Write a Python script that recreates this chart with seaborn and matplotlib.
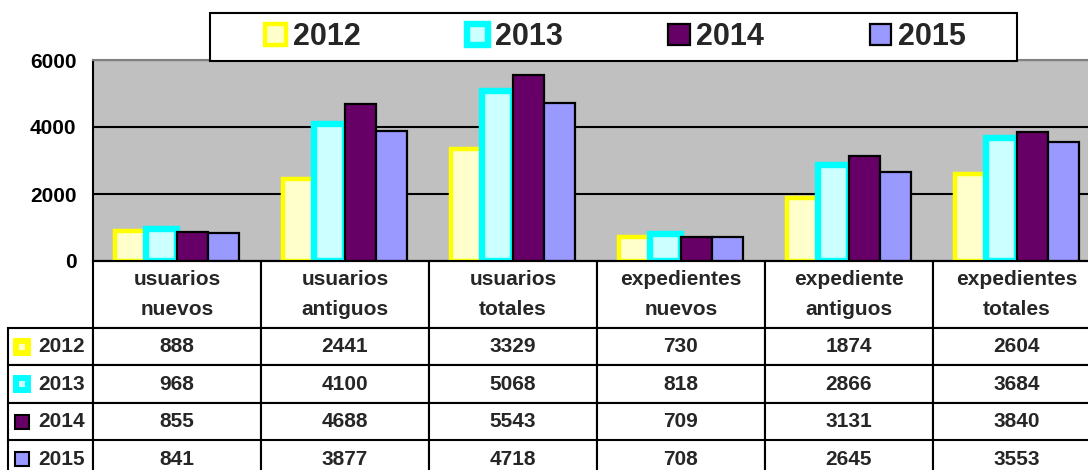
import numpy as np
import pandas as pd
import matplotlib
matplotlib.use("Agg")
import matplotlib.pyplot as plt
import seaborn as sns
from matplotlib.patches import Rectangle
from matplotlib.table import Table

# ==========================================
# DATA
# ==========================================

categorias = ["usuarios\nnuevos", "usuarios\nantiguos", "usuarios\ntotales",
              "expedientes\nnuevos", "expediente\nantiguos", "expedientes\ntotales"]
anios = ["2012", "2013", "2014", "2015"]

v2012 = [888, 2441, 3329, 730, 1874, 2604]
v2013 = [968, 4100, 5068, 818, 2866, 3684]
v2014 = [855, 4688, 5543, 709, 3131, 3840]
v2015 = [841, 3877, 4718, 708, 2645, 3553]

y_ticks = [0, 2000, 4000, 6000]

# colours (excel style)
relleno = ["#FFFFCC", "#CCFFFF", "#660066", "#9999FF"]
borde = ["#FFFF00", "#00FFFF", "#000000", "#000000"]
borde_w = [3.2, 4.6, 1.6, 1.6]

series = [v2012, v2013, v2014, v2015]

df = pd.DataFrame({
    "categoria": np.tile(categorias, len(anios)),
    "anio": np.repeat(anios, len(categorias)),
    "valor": np.concatenate(series),
})

# ==========================================
# FIGURE / AXES
# ==========================================

sns.set_style("white")
plt.rcParams["font.family"] = ["Liberation Sans", "DejaVu Sans"]
plt.rcParams["font.weight"] = "bold"

W, H = 1088, 470
fig = plt.figure(figsize=(W / 100, H / 100), dpi=100)
fig.patch.set_facecolor("white")

# plot area in pixels: x 93..1101 (cropped at right), y 60..261
ax_l, ax_r, ax_t, ax_b = 93, 1101, 60, 261
axw, axh = ax_r - ax_l, ax_b - ax_t
ax = fig.add_axes([ax_l / W, 1 - ax_b / H, axw / W, axh / H])
ax.set_facecolor("#C0C0C0")

sns.barplot(
    data=df, x="categoria", y="valor", hue="anio",
    order=categorias, hue_order=anios,
    palette=relleno, saturation=1, width=0.74, gap=0,
    errorbar=None, legend=False, ax=ax
)

for cont, ec, lw in zip(ax.containers, borde, borde_w):
    for bar in cont:
        bar.set_edgecolor(ec)
        bar.set_linewidth(lw)

ax.set_xlim(-0.5, 5.5)
ax.set_ylim(0, 6000)
ax.set_yticks(y_ticks)
ax.set_xticks(range(len(categorias)))
ax.set_xticklabels([""] * len(categorias))
ax.set_xlabel("")
ax.set_ylabel("")
ax.tick_params(axis="x", length=0)
ax.tick_params(axis="y", length=5, width=1.3, pad=7, labelsize=15, colors="black")

ax.yaxis.grid(True, color="black", linewidth=1.5)
ax.set_axisbelow(True)

ax.spines["left"].set_color("black")
ax.spines["left"].set_linewidth(1.5)
ax.spines["bottom"].set_color("black")
ax.spines["bottom"].set_linewidth(1.5)
ax.spines["top"].set_color("#808080")
ax.spines["top"].set_linewidth(1.5)
ax.spines["right"].set_visible(False)

# ==========================================
# DATA TABLE BELOW THE CHART
# ==========================================

label_w, col_w = 85, 168
head_h, row_h = 67, 37.5
tab_h = head_h + row_h * len(anios)
tab_w = label_w + col_w * len(categorias)

tbl = Table(ax, bbox=[-label_w / axw, -tab_h / axh, tab_w / axw, tab_h / axh])

for j, cat in enumerate(categorias):
    c = tbl.add_cell(0, j + 1, col_w, head_h, text=cat, loc="center",
                     facecolor="white", edgecolor="black")
    c.get_text().set_linespacing(1.7)
for i, (anio, vals) in enumerate(zip(anios, series)):
    c = tbl.add_cell(i + 1, 0, label_w, row_h, text=anio, loc="right",
                     facecolor="white", edgecolor="black")
    for j, v in enumerate(vals):
        tbl.add_cell(i + 1, j + 1, col_w, row_h, text=str(v), loc="center",
                     facecolor="white", edgecolor="black")

tbl.auto_set_font_size(False)
tbl.set_fontsize(15)
for cell in tbl.get_celld().values():
    cell.set_linewidth(1.5)
    cell.get_text().set_fontweight("bold")
ax.add_table(tbl)

# little colour keys in the row labels
for i in range(len(anios)):
    yc = ax_b + head_h + row_h * (i + 0.5)
    if i < 2:
        s, lw = 12, 4.3
    else:
        s, lw = 14, 1.5
    xc = 22
    ax.add_patch(Rectangle(((xc - s / 2 - ax_l) / axw, (ax_b - yc - s / 2) / axh),
                           s / axw, s / axh, transform=ax.transAxes,
                           facecolor=relleno[i], edgecolor=borde[i], linewidth=lw,
                           clip_on=False, zorder=5))

# ==========================================
# LEGEND
# ==========================================

fig.add_artist(Rectangle((210 / W, 1 - 61 / H), 807 / W, 48 / H,
                         transform=fig.transFigure, facecolor="white",
                         edgecolor="black", linewidth=1.5, zorder=2))

handles = [cont[0] for cont in ax.containers]
leg = fig.legend(
    handles, anios, loc="center", bbox_to_anchor=(615.5 / W, 1 - 37 / H),
    ncol=4, frameon=False, prop={"size": 22, "weight": "bold"},
    handlelength=0.7, handleheight=0.7, handletextpad=0.22, columnspacing=3.46,
    borderpad=0, borderaxespad=0
)
leg.set_zorder(3)

fig.savefig("out.png", dpi=100)
